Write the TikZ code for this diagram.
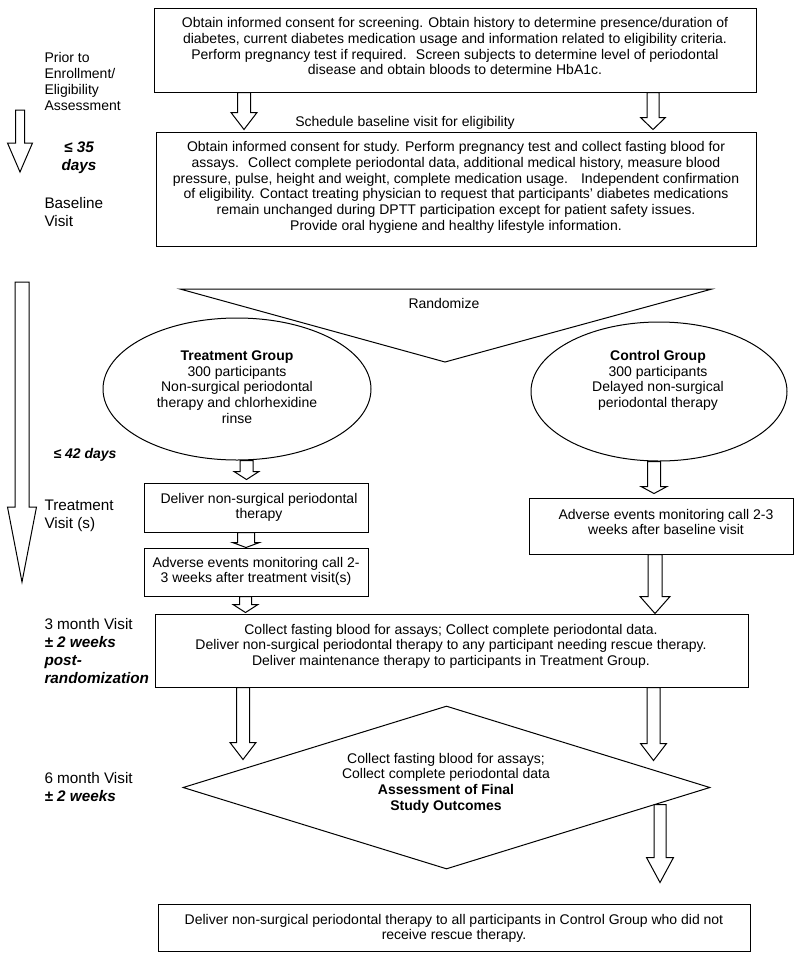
\documentclass[tikz,border=0pt]{standalone}
\usepackage{fontspec}
\setmainfont{Liberation Sans}
\usetikzlibrary{shapes.geometric,calc}
\newcommand{\barr}[5]{%
  \path[blockarrow] let \p1=#1, \p2=#2 in
    (\x1-#3pt,\y1) -- (\x1-#3pt,\y2+#5pt) -- (\x1-#4pt,\y2+#5pt) -- (\x1,\y2)
    -- (\x1+#4pt,\y2+#5pt) -- (\x1+#3pt,\y2+#5pt) -- (\x1+#3pt,\y1) -- cycle;}
\begin{document}
\begin{tikzpicture}[x=1pt,y=-1pt,line width=1pt,
  box/.style={draw,rectangle,inner sep=0pt},
  txt/.style={font=\fontsize{14pt}{15.8pt}\selectfont,align=center,inner sep=0pt,anchor=base},
  lab/.style={font=\fontsize{15.3pt}{18pt}\selectfont,align=left,inner sep=0pt,anchor=base west},
  labs/.style={font=\fontsize{14pt}{16.3pt}\selectfont,align=left,inner sep=0pt,anchor=base west},
  blockarrow/.style={draw,fill=white,line join=miter}]
\path[fill=white] (0,0) rectangle (800,959);
\useasboundingbox (0,0) rectangle (800,959);

% boxes (text nodes are anchored at the baseline of their last line)
\node[box,minimum width=602pt,minimum height=84pt] (top) at (455,50) {};
\node[txt] (toptext) at (455,74.8) {Obtain informed consent for screening. Obtain history to determine presence/duration of\\diabetes, current diabetes medication usage and information related to eligibility criteria.\\Perform pregnancy test if required.~ Screen subjects to determine level of periodontal\\disease and obtain bloods to determine HbA1c.};

\node[txt] (sched) at (405,126.5) {Schedule baseline visit for eligibility};

\node[box,minimum width=600pt,minimum height=114pt] (base) at (456,189) {};
\node[txt] (basetext) at (456,230.5) {Obtain informed consent for study. Perform pregnancy test and collect fasting blood for\\assays.~ Collect complete periodontal data, additional medical history, measure blood\\pressure, pulse, height and weight, complete medication usage.~~ Independent confirmation\\of eligibility. Contact treating physician to request that participants’ diabetes medications\\remain unchanged during DPTT participation except for patient safety issues.\\Provide oral hygiene and healthy lifestyle information.};

% randomize
\coordinate (rl) at (180,289);
\coordinate (rr) at (712,289);
\coordinate (rb) at (445,362);
\draw[line join=miter] (rl) -- (rr) -- (rb) -- cycle;
\node[txt,anchor=base west] (rand) at (408,308) {Randomize};

% groups
\node[ellipse,draw,minimum width=268pt,minimum height=142pt,inner sep=0pt] (tg) at (237,389) {};
\node[txt] (tgt) at (237,423.4) {\textbf{Treatment Group}\\300 participants\\Non-surgical periodontal\\therapy and chlorhexidine\\rinse};
\node[ellipse,draw,minimum width=256pt,minimum height=139pt,inner sep=0pt] (cg) at (659,391.5) {};
\node[txt] (cgt) at (658,407.6) {\textbf{Control Group}\\300 participants\\Delayed non-surgical\\periodontal therapy};

\node[box,minimum width=224pt,minimum height=49pt] (del) at (256,507.5) {};
\node[txt] (delt) at (259,518.8) {Deliver non-surgical periodontal\\therapy};
\node[box,minimum width=224pt,minimum height=48pt] (ta) at (256,572) {};
\node[txt] (tat) at (256,582.8) {Adverse events monitoring call 2-\\3 weeks after treatment visit(s)};
\node[box,minimum width=264pt,minimum height=56pt] (ca) at (661,526) {};
\node[txt] (cat) at (666,534.8) {Adverse events monitoring call 2-3\\weeks after baseline visit};

\node[box,minimum width=593pt,minimum height=73pt] (m3) at (451.5,650.5) {};
\node[txt] (m3t) at (451,665.6) {Collect fasting blood for assays; Collect complete periodontal data.\\Deliver non-surgical periodontal therapy to any participant needing rescue therapy.\\Deliver maintenance therapy to participants in Treatment Group.};

\node[diamond,draw,minimum width=527pt,minimum height=163pt,inner sep=0pt] (dia) at (446.5,787.5) {};
\node[txt] (diat) at (446,810.4) {Collect fasting blood for assays;\\Collect complete periodontal data\\\textbf{Assessment of Final}\\\textbf{Study Outcomes}};

\node[box,minimum width=592pt,minimum height=47pt] (bot) at (454,927.5) {};
\node[txt] (bott) at (454,939.8) {Deliver non-surgical periodontal therapy to all participants in Control Group who did not\\receive rescue therapy.};

% left labels
\node[labs] (prior) at (44,110.9) {Prior to\\Enrollment/\\Eligibility\\Assessment};
\node[lab,align=center,anchor=base,font=\fontsize{15.3pt}{18pt}\selectfont\bfseries\itshape] (d35) at (79,170) {≤ 35\\days};
\node[lab] (bv) at (44,226) {Baseline\\Visit};
\node[lab,font=\fontsize{14pt}{18pt}\selectfont\bfseries\itshape] (d42) at (53,458) {≤ 42 days};
\node[lab] (tv) at (44,528) {Treatment\\Visit (s)};
\node[lab] (m3l) at (44,683) {3 month Visit\\\textbf{\textit{± 2 weeks}}\\\textbf{\textit{post-}}\\\textbf{\textit{randomization}}};
\node[lab] (m6l) at (44,801) {6 month Visit\\\textbf{\textit{± 2 weeks}}};

% arrow columns
\coordinate (c1) at (244,0);
\coordinate (c2) at (653,0);
\coordinate (c5) at (246.5,0);
\coordinate (c6) at (246,0);
\coordinate (c7) at (245.5,0);
\coordinate (c8) at (654,0);
\coordinate (c9) at (655,0);
\coordinate (c10) at (243,0);
\coordinate (c11) at (653.5,0);
\coordinate (c12) at (660,0);
\coordinate (t1s) at (20,110);
\coordinate (t1e) at (20,172);
\coordinate (t2s) at (22,282);
\coordinate (t2e) at (22,582);

% block arrows
\barr{(top.south -| c1)}{($(base.north -| c1)+(0,-2)$)}{6.5}{13}{17}
\barr{(top.south -| c2)}{($(base.north -| c2)+(0,-2)$)}{6}{12.5}{12}
\barr{(tg.south -| c5)}{($(del.north -| c5)+(0,-3)$)}{6.5}{12.5}{8}
\barr{(del.south -| c6)}{(ta.north -| c6)}{8.5}{13.5}{5}
\barr{(ta.south -| c7)}{($(m3.north -| c7)+(0,-1)$)}{6}{12.5}{8}
\barr{(cg.south -| c8)}{($(ca.north -| c8)+(0,-4)$)}{6.5}{13}{7}
\barr{(ca.south -| c9)}{(m3.north -| c9)}{7}{15}{17}
\barr{(m3.south -| c10)}{($(m3.south -| c10)+(0,72)$)}{6.5}{13}{17}
\barr{(m3.south -| c11)}{($(m3.south -| c11)+(0,73)$)}{6.5}{13}{17}
\barr{($(dia.east -| c12)+(0,17)$)}{($(bot.north -| c12)+(0,-21)$)}{6}{13.5}{25}
\barr{(t1s)}{(t1e)}{4.5}{12.5}{29}
\barr{(t2s)}{(t2e)}{7}{14.5}{75}
\end{tikzpicture}
\end{document}
